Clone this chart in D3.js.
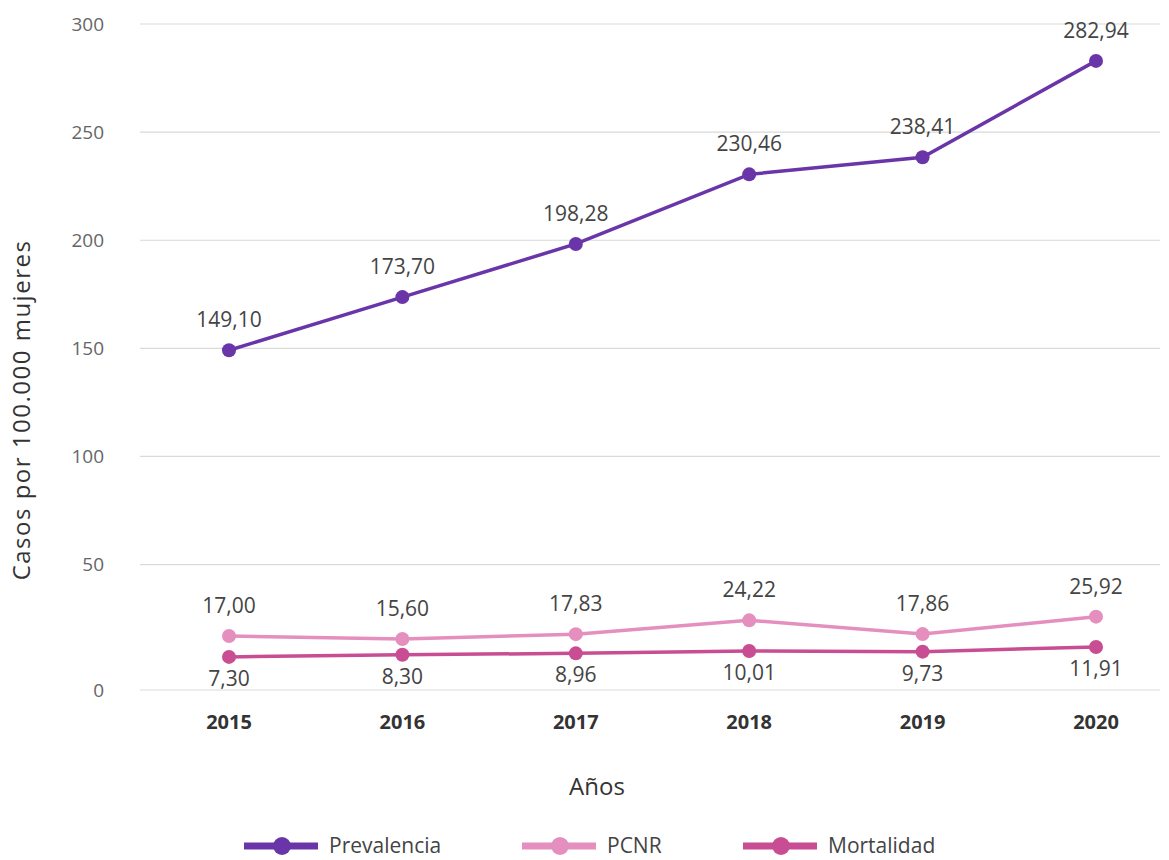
<!DOCTYPE html>
<html lang="es">
<head>
<meta charset="UTF-8">
<title>Casos por 100.000 mujeres</title>
<script src="https://d3js.org/d3.v7.min.js"></script>
<style>
  body { margin: 0; background: #fff; }
  svg { font-family: "Open Sans", sans-serif; }
  .grid line { stroke: #d9d9d9; stroke-width: 1.2px; }
  .tick-label { font-size: 19px; fill: #666; }
  .year { font-size: 20px; font-weight: bold; fill: #333; }
  .val { font-size: 21px; fill: #444; }
  .title { font-size: 24px; fill: #333; }
  .legend text { font-size: 21px; fill: #444; }
</style>
</head>
<body>
<div id="chart"></div>
<script>
// datos
const years = ["2015", "2016", "2017", "2018", "2019", "2020"];
const prevalencia = [149.10, 173.70, 198.28, 230.46, 238.41, 282.94];
const pcnr = [17.00, 15.60, 17.83, 24.22, 17.86, 25.92];
const mortalidad = [7.30, 8.30, 8.96, 10.01, 9.73, 11.91];
const yTicks = [0, 50, 100, 150, 200, 250, 300];

const series = [
  {name: "Prevalencia", values: prevalencia, color: "#6a35a8", labelPos: "above"},
  {name: "PCNR", values: pcnr, color: "#e58fbe", labelPos: "above"},
  {name: "Mortalidad", values: mortalidad, color: "#c84d92", labelPos: "below"}
];

const W = 1169, H = 860;
const svg = d3.select("#chart").append("svg")
  .attr("width", W).attr("height", H);

// escalas
const x = d3.scalePoint().domain(years).range([229, 1096]);
const y = d3.scaleLinear().domain([-8, 300]).range([690, 24]);
const gridLeft = 140, gridRight = 1160;
const fmt = v => d3.format(".2f")(v).replace(".", ",");

// rejilla horizontal (la linea del 0 coincide con la base del grafico)
const tickY = t => t === 0 ? y.range()[0] : y(t);
const grid = svg.append("g").attr("class", "grid");
grid.selectAll("line").data(yTicks).join("line")
  .attr("x1", gridLeft).attr("x2", gridRight)
  .attr("y1", d => tickY(d)).attr("y2", d => tickY(d));

svg.append("g").selectAll("text").data(yTicks).join("text")
  .attr("class", "tick-label")
  .attr("x", 104).attr("y", d => tickY(d))
  .attr("dy", "0.35em")
  .attr("text-anchor", "end")
  .text(d => d);

// eje x
svg.append("g").selectAll("text").data(years).join("text")
  .attr("class", "year")
  .attr("x", d => x(d)).attr("y", 729)
  .attr("text-anchor", "middle")
  .text(d => d);

// titulos
svg.append("text").attr("class", "title")
  .attr("x", 597).attr("y", 795)
  .attr("text-anchor", "middle")
  .text("Años");

svg.append("text").attr("class", "title")
  .attr("transform", "translate(30,410) rotate(-90)")
  .attr("text-anchor", "middle")
  .style("letter-spacing", "1.5px")
  .text("Casos por 100.000 mujeres");

// lineas
const line = d3.line()
  .x((d, i) => x(years[i]))
  .y(d => y(d));

series.forEach(s => {
  const g = svg.append("g");
  g.append("path")
    .datum(s.values)
    .attr("fill", "none")
    .attr("stroke", s.color)
    .attr("stroke-width", 3.5)
    .attr("d", line);
  g.selectAll("circle").data(s.values).join("circle")
    .attr("cx", (d, i) => x(years[i]))
    .attr("cy", d => y(d))
    .attr("r", 7)
    .attr("fill", s.color);
  g.selectAll("text").data(s.values).join("text")
    .attr("class", "val")
    .attr("x", (d, i) => x(years[i]))
    .attr("y", d => s.labelPos === "above" ? y(d) - 23 : y(d) + 29)
    .attr("text-anchor", "middle")
    .text(d => fmt(d));
});

// leyenda
const legendX = [244, 522, 743];
const legend = svg.append("g").attr("class", "legend");
series.forEach((s, i) => {
  const g = legend.append("g").attr("transform", `translate(${legendX[i]},846)`);
  g.append("line")
    .attr("x1", 0).attr("x2", 74)
    .attr("stroke", s.color).attr("stroke-width", 7);
  g.append("circle").attr("cx", 38).attr("r", 9).attr("fill", s.color);
  g.append("text").attr("x", 85).attr("dy", "0.35em").text(s.name);
});
</script>
</body>
</html>
